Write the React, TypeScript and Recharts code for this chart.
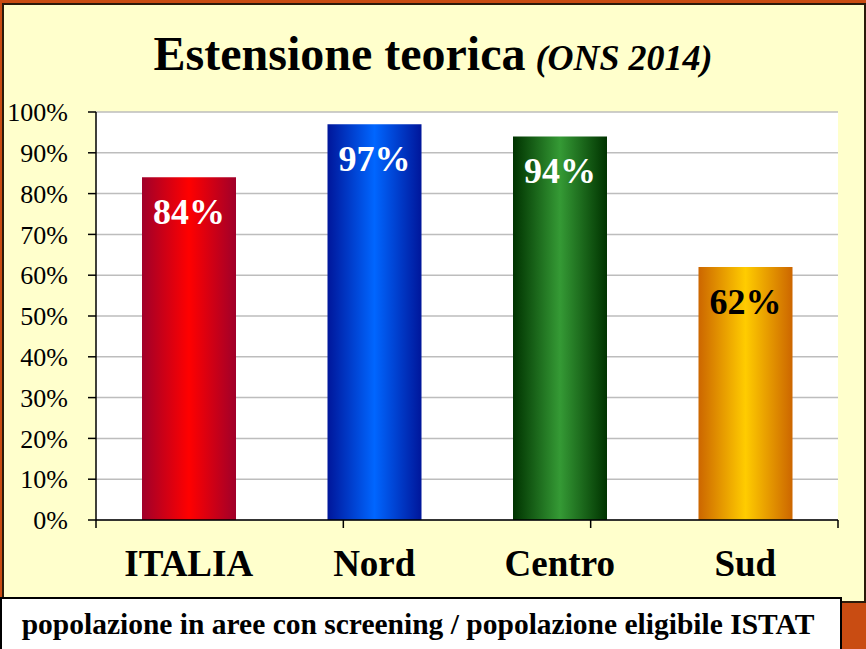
import React from 'react';
import { BarChart, Bar, XAxis, YAxis, CartesianGrid, Cell, LabelList } from 'recharts';

const categories = ['ITALIA', 'Nord', 'Centro', 'Sud'];
const values = [84, 97, 94, 62];
const yTicks = [0, 10, 20, 30, 40, 50, 60, 70, 80, 90, 100];
const boundaryTicks = [0, 1, 2, 3, 4];
const titleMain = 'Estensione teorica';
const titleSub = '(ONS 2014)';
const footnote = 'popolazione in aree con screening / popolazione eligibile ISTAT';

const data = categories.map((name, i) => ({ name, value: values[i] }));

const GRADS = [
  ['#A0002A', '#FF0000'],
  ['#00169A', '#0066FF'],
  ['#003300', '#359A35'],
  ['#CC6600', '#FFCC00'],
];
const LABEL_COLORS = ['#FFFFFF', '#FFFFFF', '#FFFFFF', '#000000'];
const SERIF = '"Liberation Serif", "Times New Roman", serif';

const ValueLabel = (props: any) => {
  const { x, y, width, value, index } = props;
  const idx = typeof index === 'number' ? index : values.indexOf(value);
  return (
    <text
      x={Number(x) + Number(width) / 2}
      y={Number(y) + 47}
      textAnchor="middle"
      fill={LABEL_COLORS[idx] || '#fff'}
      fontFamily={SERIF}
      fontWeight="bold"
      fontSize={36}
    >
      {value}%
    </text>
  );
};

const CatTick = (props: any) => {
  const { x, y, payload } = props;
  return (
    <text x={x} y={Number(y) + 53} textAnchor="middle" fill="#000" fontFamily={SERIF} fontWeight="bold" fontSize={37}>
      {payload.value}
    </text>
  );
};

const NoLabel = () => <g />;

export default function App() {
  return (
    <div style={{ position: 'absolute', left: 0, top: 0, width: 866, height: 649, background: '#C94C12', overflow: 'hidden' }}>
      <div
        style={{
          position: 'absolute', left: 2, top: 3, width: 864, height: 600, boxSizing: 'border-box',
          background: '#FFFFCC', border: '2px solid #2A1A0A',
        }}
      />
      <div
        style={{
          position: 'absolute', left: 0, top: 597, width: 842, height: 60, boxSizing: 'border-box',
          background: '#FFFFFF', border: '2px solid #000',
        }}
      />
      <div style={{ position: 'absolute', left: 0, top: 0 }}>
        <BarChart width={866} height={649} data={data} margin={{ top: 112, right: 28, bottom: 0, left: 0 }}>
          <defs>
            {GRADS.map((g, i) => (
              <linearGradient key={i} id={`grad${i}`} x1="0" y1="0" x2="1" y2="0">
                <stop offset="0%" stopColor={g[0]} />
                <stop offset="50%" stopColor={g[1]} />
                <stop offset="100%" stopColor={g[0]} />
              </linearGradient>
            ))}
          </defs>
          <CartesianGrid xAxisId="cat" vertical={false} stroke="#BDBDBD" strokeWidth={1.5} fill="#FFFFFF" fillOpacity={1} />
          <XAxis
            xAxisId="b"
            type="number"
            domain={[0, 4]}
            ticks={boundaryTicks}
            interval={0}
            allowDataOverflow
            height={1}
            tickSize={8}
            tick={<NoLabel />}
            tickFormatter={() => ''}
            stroke="#000"
            axisLine={{ stroke: '#000', strokeWidth: 1.5 }}
            tickLine={{ stroke: '#000', strokeWidth: 1.5 }}
          />
          <XAxis
            xAxisId="cat"
            dataKey="name"
            height={128}
            axisLine={false}
            tickLine={false}
            tickSize={0}
            tick={<CatTick />}
            interval={0}
          />
          <YAxis
            width={96}
            domain={[0, 100]}
            ticks={yTicks}
            interval={0}
            tickFormatter={(v: number) => `${v}%`}
            tickSize={8}
            tickMargin={20}
            axisLine={{ stroke: '#000', strokeWidth: 1.5 }}
            tickLine={{ stroke: '#000', strokeWidth: 1.5 }}
            tick={{ fill: '#000', fontSize: 26, fontFamily: SERIF }}
          />
          <Bar xAxisId="cat" dataKey="value" barSize={94} isAnimationActive={false}>
            {data.map((d, i) => (
              <Cell key={d.name} fill={`url(#grad${i})`} />
            ))}
            <LabelList dataKey="value" content={<ValueLabel />} />
          </Bar>
        </BarChart>
      </div>
      <svg width={866} height={649} style={{ position: 'absolute', left: 0, top: 0, pointerEvents: 'none' }}>
        <text x={433} y={70} textAnchor="middle" fontFamily={SERIF} fontWeight="bold" fill="#000">
          <tspan fontSize={48}>{titleMain}</tspan>
          <tspan fontSize={36} fontStyle="italic" dx={10}>{titleSub}</tspan>
        </text>
        <text x={418} y={634} textAnchor="middle" fontFamily={SERIF} fontWeight="bold" fontSize={29.5} fill="#000">
          {footnote}
        </text>
      </svg>
    </div>
  );
}
